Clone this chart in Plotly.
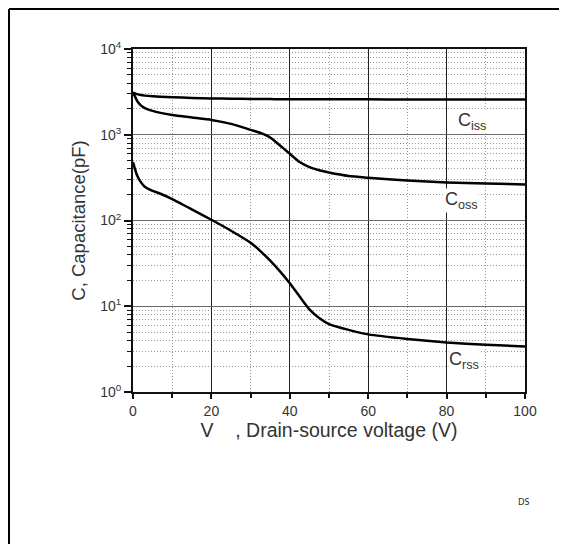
import plotly.graph_objects as go

# Drain-source voltage (V)
V = [0, 0.5, 1, 2, 3, 5, 7, 10, 15, 20, 25, 30, 32.5, 35, 37.5, 40, 42.5, 45, 47.5, 50, 55, 60, 70, 80, 90, 100]
# Capacitances (pF)
Ciss = [3100, 3040, 2980, 2900, 2860, 2810, 2780, 2740, 2690, 2650, 2630, 2615, 2610, 2605, 2600, 2598, 2596, 2594, 2592, 2590, 2588, 2586, 2584, 2582, 2580, 2578]
Coss = [3100, 2800, 2500, 2200, 2050, 1900, 1800, 1700, 1590, 1490, 1340, 1140, 1050, 930, 750, 600, 480, 420, 385, 362, 330, 315, 292, 278, 270, 263]
Crss = [480, 400, 340, 280, 248, 222, 205, 178, 135, 102, 76, 55, 44, 34, 25.5, 18.5, 13, 9.2, 7.3, 6.2, 5.3, 4.7, 4.15, 3.77, 3.55, 3.4]

x_ticks = [0, 20, 40, 60, 80, 100]
x_minor = [10, 30, 50, 70, 90]
y_tickvals = [1, 10, 100, 1000, 10000]
y_ticktext = ["10<sup>0</sup>", "10<sup>1</sup>", "10<sup>2</sup>", "10<sup>3</sup>", "10<sup>4</sup>"]
y_minor = [m * 10 ** k for k in range(4) for m in range(2, 10)]

FONT = "Liberation Sans, Arial, sans-serif"

fig = go.Figure()
for name, ys in [("Ciss", Ciss), ("Coss", Coss), ("Crss", Crss)]:
    fig.add_trace(go.Scatter(x=V, y=ys, mode="lines", name=name,
                             line=dict(color="black", width=2.5, shape="spline", smoothing=0.5),
                             showlegend=False))

# page body has an 8px margin, so the figure is sized to fit the window from (8,8)
fig.update_layout(
    width=559, height=536,
    margin=dict(l=125, r=42, t=41, b=152),
    paper_bgcolor="white", plot_bgcolor="white",
    font=dict(family=FONT, color="#333"),
)

fig.update_xaxes(
    range=[0, 100], tickvals=x_ticks,
    showline=True, linecolor="#111", linewidth=2, mirror=True,
    ticks="outside", ticklen=5, tickwidth=2, tickcolor="#111",
    tickfont=dict(size=14, color="#333"),
    showgrid=True, gridcolor="#222", gridwidth=1.3,
    zeroline=False,
    minor=dict(tickvals=x_minor, ticks="outside", ticklen=4, tickwidth=1.5,
               tickcolor="#111", showgrid=True, gridcolor="#999", griddash="1px,2px", gridwidth=1),
    title=dict(text="V    , Drain-source voltage (V)", font=dict(size=19.5, color="#333"), standoff=5),
)

fig.update_yaxes(
    type="log", range=[0, 4], tickvals=y_tickvals, ticktext=y_ticktext,
    showline=True, linecolor="#111", linewidth=2, mirror=True,
    ticks="outside", ticklen=7, tickwidth=2, tickcolor="#111",
    tickfont=dict(size=14, color="#333"),
    showgrid=True, gridcolor="#6a6a6a", gridwidth=1.3,
    zeroline=False,
    minor=dict(tickvals=y_minor, ticks="outside", ticklen=4, tickwidth=1.2,
               tickcolor="#111", showgrid=True, gridcolor="#999", griddash="1px,2px", gridwidth=1),
    title=dict(text="C, Capacitance(pF)", font=dict(size=18.5, color="#333"), standoff=10),
)

labels = [("C<sub>iss</sub>", 86.5, 3.15), ("C<sub>oss</sub>", 83.9, 2.235), ("C<sub>rss</sub>", 84.4, 0.37)]
for txt, ax_, ay_ in labels:
    fig.add_annotation(x=ax_, y=ay_, text=txt, showarrow=False, bgcolor="white",
                       font=dict(size=18, color="#333", family=FONT), borderpad=0)

fig.add_annotation(xref="paper", yref="paper", x=1.018, y=-0.344, text="DS", showarrow=False,
                   font=dict(size=9, color="#222", family="Noto Sans, sans-serif"))

# outer page frame
fig.add_shape(type="line", xref="paper", yref="paper", x0=-0.3163, x1=-0.3163, y0=-0.45, y1=1.1166,
              line=dict(color="black", width=2))
fig.add_shape(type="line", xref="paper", yref="paper", x0=-0.3163, x1=1.11, y0=1.1166, y1=1.1166,
              line=dict(color="black", width=2))

fig.write_html("out.html")
